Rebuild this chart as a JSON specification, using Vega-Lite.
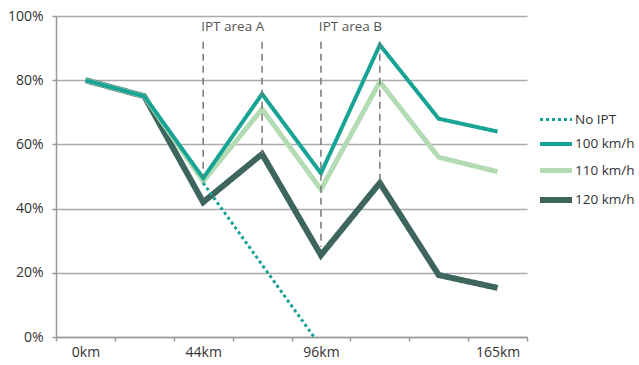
{
  "$schema": "https://vega.github.io/schema/vega-lite/v6.json",
  "width": 471,
  "height": 321,
  "autosize": {"type": "none"},
  "padding": {"left": 56, "top": 16, "right": 112, "bottom": 28},
  "background": "white",
  "config": {
    "view": {"stroke": null},
    "font": "Open Sans",
    "axis": {"labelFont": "Open Sans", "labelFontSize": 14, "labelColor": "#333", "domainColor": "#999", "tickColor": "#999", "title": null}
  },
  "datasets": {
    "lines": [
      {"pos": 1, "v": 80, "s": "120 km/h"}, {"pos": 2, "v": 75, "s": "120 km/h"}, {"pos": 3, "v": 42, "s": "120 km/h"}, {"pos": 4, "v": 57, "s": "120 km/h"},
      {"pos": 5, "v": 25.5, "s": "120 km/h"}, {"pos": 6, "v": 48, "s": "120 km/h"}, {"pos": 7, "v": 19.3, "s": "120 km/h"}, {"pos": 8, "v": 15.3, "s": "120 km/h"},
      {"pos": 1, "v": 80, "s": "110 km/h"}, {"pos": 2, "v": 75, "s": "110 km/h"}, {"pos": 3, "v": 48.5, "s": "110 km/h"}, {"pos": 4, "v": 71, "s": "110 km/h"},
      {"pos": 5, "v": 46, "s": "110 km/h"}, {"pos": 6, "v": 79.5, "s": "110 km/h"}, {"pos": 7, "v": 56, "s": "110 km/h"}, {"pos": 8, "v": 51.5, "s": "110 km/h"},
      {"pos": 1, "v": 80, "s": "100 km/h"}, {"pos": 2, "v": 75, "s": "100 km/h"}, {"pos": 3, "v": 49.5, "s": "100 km/h"}, {"pos": 4, "v": 75.7, "s": "100 km/h"},
      {"pos": 5, "v": 51, "s": "100 km/h"}, {"pos": 6, "v": 91, "s": "100 km/h"}, {"pos": 7, "v": 68, "s": "100 km/h"}, {"pos": 8, "v": 64, "s": "100 km/h"},
      {"pos": 3, "v": 48, "s": "No IPT"}, {"pos": 5, "v": -3, "s": "No IPT"}
    ],
    "rules": [
      {"pos": 3, "top": 92, "bottom": 50},
      {"pos": 4, "top": 92, "bottom": 57},
      {"pos": 5, "top": 92, "bottom": 28},
      {"pos": 6, "top": 92, "bottom": 48}
    ],
    "labels": [
      {"pos": 3, "y": 96.5, "label": "IPT area A"},
      {"pos": 5, "y": 96.5, "label": "IPT area B"}
    ]
  },
  "layer": [
    {
      "data": {"name": "lines"},
      "mark": {"type": "line", "clip": true, "strokeCap": "butt", "strokeJoin": "miter"},
      "encoding": {
        "x": {
          "field": "pos", "type": "ordinal",
          "scale": {"type": "band", "domain": [1, 2, 3, 4, 5, 6, 7, 8], "paddingInner": 0, "paddingOuter": 0},
          "axis": {"tickBand": "extent", "labelAngle": 0, "tickSize": 4, "labelPadding": 4, "domainWidth": 1.5, "tickWidth": 1.5,
                   "labelExpr": "datum.value == 1 ? '0km' : datum.value == 3 ? '44km' : datum.value == 5 ? '96km' : datum.value == 8 ? '165km' : ''"}
        },
        "y": {
          "field": "v", "type": "quantitative",
          "scale": {"domain": [0, 100], "nice": false},
          "axis": {"values": [0, 10, 20, 30, 40, 50, 60, 70, 80, 90, 100], "grid": true, "gridColor": "#aaaaaa", "gridWidth": 1.5,
                   "tickSize": 4, "tickWidth": 1.5, "domainWidth": 1.5, "labelPadding": 9,
                   "labelExpr": "datum.value % 20 == 0 ? datum.value + '%' : ''"}
        },
        "color": {
          "field": "s", "type": "nominal",
          "scale": {"domain": ["No IPT", "100 km/h", "110 km/h", "120 km/h"], "range": ["#16a093", "#18a494", "#b3dcb4", "#3e665e"]},
          "legend": {"orient": "none", "legendX": 481, "legendY": 86, "title": null, "symbolType": "stroke", "symbolSize": 1024,
                     "labelFontSize": 13.5, "labelColor": "#333", "labelFont": "Open Sans", "rowPadding": -3, "symbolOffset": 0, "labelOffset": 0, "padding": 0}
        },
        "strokeDash": {
          "field": "s", "type": "nominal",
          "scale": {"domain": ["No IPT", "100 km/h", "110 km/h", "120 km/h"], "range": [[3, 3], [1, 0], [1, 0], [1, 0]]}
        },
        "strokeWidth": {
          "field": "s", "type": "nominal",
          "scale": {"domain": ["No IPT", "100 km/h", "110 km/h", "120 km/h"], "range": [3, 6, 6, 6]}
        }
      }
    },
    {
      "data": {"name": "rules"},
      "mark": {"type": "rule", "color": "#777", "strokeWidth": 1.5, "strokeDash": [7, 5]},
      "encoding": {
        "x": {"field": "pos", "type": "ordinal"},
        "y": {"field": "top", "type": "quantitative"},
        "y2": {"field": "bottom"}
      }
    },
    {
      "data": {"name": "labels"},
      "mark": {"type": "text", "fontSize": 13.5, "color": "#555", "dx": 29.5, "align": "center", "baseline": "middle", "font": "Open Sans"},
      "encoding": {
        "x": {"field": "pos", "type": "ordinal"},
        "y": {"field": "y", "type": "quantitative"},
        "text": {"field": "label"}
      }
    }
  ]
}
